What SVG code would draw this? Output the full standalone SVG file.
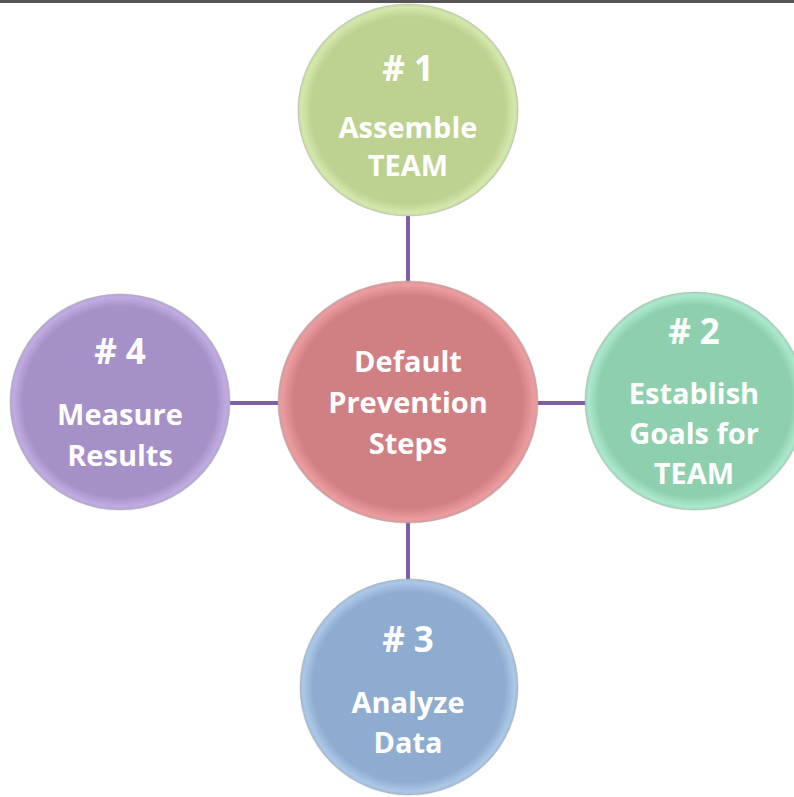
<svg xmlns="http://www.w3.org/2000/svg" width="794" height="797" viewBox="0 0 794 797">
  <defs>
    <style>
      .lbl { font-family: "Open Sans", "Liberation Sans", sans-serif; font-weight: bold; fill: #ffffff; text-anchor: middle; }
      .num { font-size: 35px; }
      .txt { font-size: 29px; }
      .conn { stroke: #7d5fa6; stroke-width: 4; fill: none; }
      .disc { stroke: #a8a8a8; stroke-opacity: 0.45; stroke-width: 1.2; }
    </style>
    <radialGradient id="gGreen" cx="0.5" cy="0.5" r="0.5">
      <stop offset="0.88" stop-color="#bdd190"/>
      <stop offset="0.97" stop-color="#d3e8ac"/>
      <stop offset="1" stop-color="#c8daa2"/>
    </radialGradient>
    <radialGradient id="gTeal" cx="0.5" cy="0.5" r="0.5">
      <stop offset="0.88" stop-color="#8ed0ae"/>
      <stop offset="0.97" stop-color="#ace8cc"/>
      <stop offset="1" stop-color="#a0d8bc"/>
    </radialGradient>
    <radialGradient id="gRed" cx="0.5" cy="0.5" r="0.5">
      <stop offset="0.88" stop-color="#d08083"/>
      <stop offset="0.97" stop-color="#ec9c9e"/>
      <stop offset="1" stop-color="#d89a9c"/>
    </radialGradient>
    <radialGradient id="gPurple" cx="0.5" cy="0.5" r="0.5">
      <stop offset="0.88" stop-color="#a690c8"/>
      <stop offset="0.97" stop-color="#c0ace2"/>
      <stop offset="1" stop-color="#b4a4d0"/>
    </radialGradient>
    <radialGradient id="gBlue" cx="0.5" cy="0.5" r="0.5">
      <stop offset="0.88" stop-color="#8eaccf"/>
      <stop offset="0.97" stop-color="#acc8e8"/>
      <stop offset="1" stop-color="#a2bad6"/>
    </radialGradient>
  </defs>

  <rect x="0" y="0" width="794" height="797" fill="#ffffff"/>
  <rect x="0" y="0" width="794" height="3" fill="#555555"/>

  <!-- connectors from the hub to each step -->
  <g id="connectors">
    <line class="conn" x1="408" y1="214" x2="408" y2="284"/>
    <line class="conn" x1="408" y1="521" x2="408" y2="580"/>
    <line class="conn" x1="230" y1="403" x2="279" y2="403"/>
    <line class="conn" x1="536" y1="403" x2="587" y2="403"/>
  </g>

  <g id="hub">
    <ellipse class="disc" cx="408" cy="402" rx="130" ry="121" fill="url(#gRed)"/>
    <text class="lbl txt" x="408" y="372">Default</text>
    <text class="lbl txt" x="408" y="413">Prevention</text>
    <text class="lbl txt" x="408" y="454">Steps</text>
  </g>

  <g id="step1">
    <ellipse class="disc" cx="408" cy="110" rx="110" ry="106" fill="url(#gGreen)"/>
    <text class="lbl num" x="408" y="81"># 1</text>
    <text class="lbl txt" x="408" y="138">Assemble</text>
    <text class="lbl txt" x="408" y="176">TEAM</text>
  </g>

  <g id="step2">
    <ellipse class="disc" cx="695" cy="401" rx="110" ry="109" fill="url(#gTeal)"/>
    <text class="lbl num" x="694" y="344"># 2</text>
    <text class="lbl txt" x="694" y="404">Establish</text>
    <text class="lbl txt" x="694" y="444">Goals for</text>
    <text class="lbl txt" x="694" y="484">TEAM</text>
  </g>

  <g id="step3">
    <ellipse class="disc" cx="409" cy="687" rx="109" ry="108" fill="url(#gBlue)"/>
    <text class="lbl num" x="408" y="652"># 3</text>
    <text class="lbl txt" x="408" y="713">Analyze</text>
    <text class="lbl txt" x="408" y="753">Data</text>
  </g>

  <g id="step4">
    <ellipse class="disc" cx="120" cy="402" rx="110" ry="108" fill="url(#gPurple)"/>
    <text class="lbl num" x="120" y="364"># 4</text>
    <text class="lbl txt" x="120" y="425">Measure</text>
    <text class="lbl txt" x="120" y="466">Results</text>
  </g>
</svg>
